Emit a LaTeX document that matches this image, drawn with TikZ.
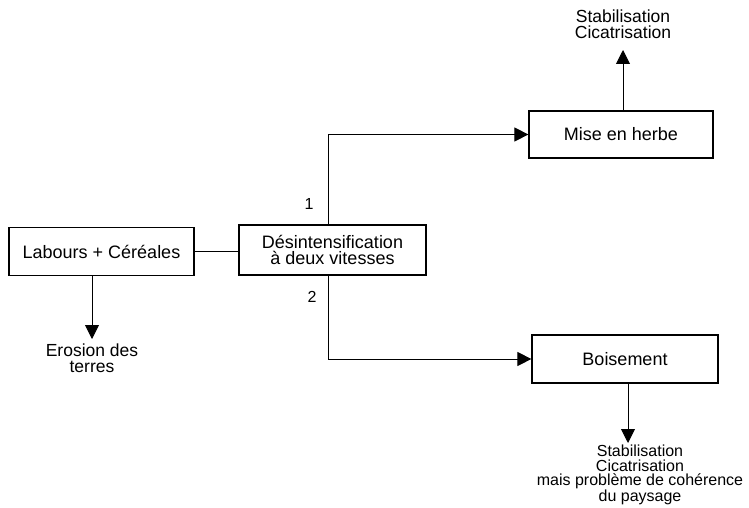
\documentclass[tikz,border=0pt]{standalone}
\usepackage{fontspec}
\setmainfont{Liberation Sans}
\usetikzlibrary{arrows.meta,calc}
\begin{document}
\begin{tikzpicture}[x=1pt,y=-1pt,
  box/.style={draw,line width=1.2pt,minimum width=185pt,minimum height=48pt,inner sep=0pt,
    font=\fontsize{18}{16.5}\selectfont,align=center},
  lbl/.style={inner sep=0pt,align=center,font=\fontsize{17.5}{16}\selectfont},
  conn/.style={line width=0.9pt},
  arr/.style={line width=0.9pt,-{Triangle[width=14pt,length=14pt]}}]
\useasboundingbox (0,0) rectangle (749,508);
\node[box] (lab) at (101.5,251.5) {Labours + Céréales};
\node[box,minimum width=187pt,minimum height=50pt] (des) at (332.5,250) {Désintensification\\à deux vitesses};
\node[box,minimum width=184pt,minimum height=47pt] (mise) at (621,134.5) {Mise en herbe};
\node[box,minimum width=186pt] (bois) at (625,359) {Boisement};
\node[lbl] (ero) at (92,358) {Erosion des\\terres};
\node[lbl] (res1) at (623,24) {Stabilisation\\Cicatrisation};
\node[lbl,font=\fontsize{16}{14.5}\selectfont] (res2) at (640,475) {Stabilisation\\Cicatrisation\\mais problème de cohérence\\du paysage};
\node[lbl,font=\fontsize{16}{16}\selectfont] (n1) at (309,204) {1};
\node[lbl,font=\fontsize{16}{16}\selectfont] (n2) at (312,297) {2};
\coordinate (labs) at (92,276);
\coordinate (des1) at (328,225);
\coordinate (des2) at (328,275);
\coordinate (miseup) at (623,111);
\coordinate (boisdn) at (628,383);
\draw[conn] (lab.east) -- (lab.east -| des.west);
\draw[arr] (des1) |- (mise.west);
\draw[arr] (des2) |- (bois.west);
\draw[arr] (labs) -- (92,339);
\draw[arr] (miseup) -- (623,50);
\draw[arr] (boisdn) -- (628,443);
\end{tikzpicture}
\end{document}
